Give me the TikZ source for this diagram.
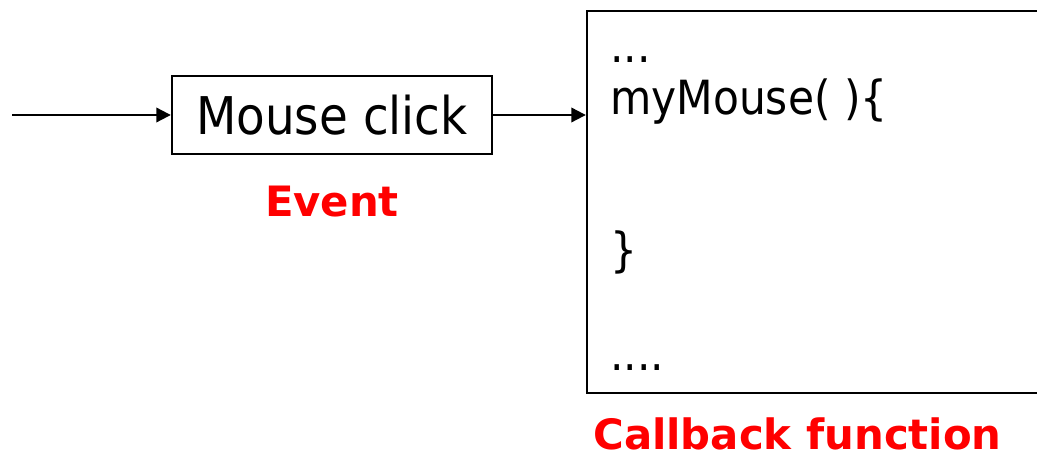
\documentclass[tikz,border=0pt]{standalone}
\usepackage{fontspec}
\setmainfont{DejaVu Sans Condensed}
\newfontfamily\tagfont{DejaVu Sans}
\usetikzlibrary{arrows.meta, positioning}

\begin{document}
\begin{tikzpicture}[
  x=0.02cm, y=-0.02cm,
  box/.style={draw, line width=1.4pt, inner sep=0pt},
  arr/.style={-{Triangle[length=0.29cm, width=0.29cm]}, line width=1.2pt},
  code/.style={anchor=base west, inner sep=0pt, font=\fontsize{26.8}{32}\selectfont},
  tag/.style={anchor=base, inner sep=0pt, text=red,
              font=\tagfont\bfseries\fontsize{23.8}{28}\selectfont},
]
\useasboundingbox (0,0) rectangle (1037,452);
\coordinate (start) at (12,115);
\node[box, minimum width=6.4cm, minimum height=1.56cm,
      font=\fontsize{29.6}{35}\selectfont] (click) at (332,115) {Mouse click};
\node[box, minimum width=9.5cm, minimum height=7.64cm] (cb) at (824.5,202) {};

\node[code] (dots1) at (610,63) {...};
\node[code] (head) at (610,115) {myMouse( )\{};
\node[code] (close) at (610,267) {\}};
\node[code] (dots2) at (610,370) {....};

\node[tag] (event) at (332,217) {Event};
\node[tag, anchor=base west] (cbname) at (593,449) {Callback function};

\draw[arr] (start) -- (click.west);
\draw[arr] (click.east) -- (click.east -| cb.west);
\end{tikzpicture}
\end{document}
